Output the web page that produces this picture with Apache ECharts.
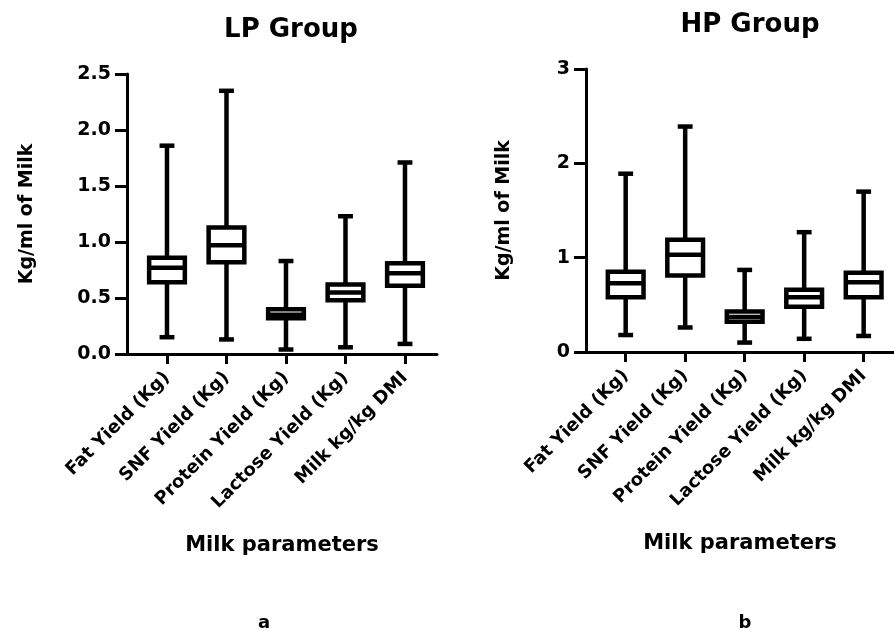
<!DOCTYPE html>
<html><head><meta charset="utf-8">
<script src="https://cdn.jsdelivr.net/npm/echarts@6/dist/echarts.min.js"></script>
<style>html,body{margin:0;padding:0;background:#fff}#c{width:894px;height:629px}</style>
</head><body><div id="c"></div>
<script>
const categories = ['Fat Yield (Kg)', 'SNF Yield (Kg)', 'Protein Yield (Kg)', 'Lactose Yield (Kg)', 'Milk kg/kg DMI'];
const categoryIndex = [0, 1, 2, 3, 4];

// LP group box statistics
const lpMin    = [0.15, 0.13, 0.04, 0.06, 0.09];
const lpQ1     = [0.64, 0.82, 0.32, 0.48, 0.61];
const lpMedian = [0.77, 0.97, 0.35, 0.55, 0.72];
const lpQ3     = [0.86, 1.13, 0.40, 0.62, 0.81];
const lpMax    = [1.86, 2.35, 0.83, 1.23, 1.71];

// HP group box statistics
const hpMin    = [0.18, 0.26, 0.10, 0.14, 0.17];
const hpQ1     = [0.58, 0.81, 0.32, 0.48, 0.58];
const hpMedian = [0.73, 1.03, 0.37, 0.58, 0.74];
const hpQ3     = [0.85, 1.19, 0.43, 0.66, 0.84];
const hpMax    = [1.89, 2.39, 0.87, 1.27, 1.70];

const lpYTicks = [0, 0.5, 1.0, 1.5, 2.0, 2.5];
const hpYTicks = [0, 1, 2, 3];

const FONT = 'DejaVu Sans';

function rows(mn, q1, md, q3, mx) {
  return categoryIndex.map(i => [i, mn[i], q1[i], md[i], q3[i], mx[i]]);
}

function renderBox(params, api) {
  const x = api.value(0);
  const p = [1, 2, 3, 4, 5].map(d => api.coord([x, api.value(d)]));
  const cx = p[0][0];
  const band = api.size([1, 0])[0];
  const hw = band * 0.3, cw = band * 0.125;
  const st = { stroke: '#000', lineWidth: 4.5, fill: 'none' };
  return {
    type: 'group', children: [
      { type: 'line', shape: { x1: cx, y1: p[0][1], x2: cx, y2: p[1][1] }, style: st },
      { type: 'line', shape: { x1: cx, y1: p[3][1], x2: cx, y2: p[4][1] }, style: st },
      { type: 'line', shape: { x1: cx - cw, y1: p[0][1], x2: cx + cw, y2: p[0][1] }, style: st },
      { type: 'line', shape: { x1: cx - cw, y1: p[4][1], x2: cx + cw, y2: p[4][1] }, style: st },
      { type: 'rect', shape: { x: cx - hw, y: p[3][1], width: 2 * hw, height: p[1][1] - p[3][1] }, style: { stroke: '#000', lineWidth: 4.5, fill: '#fff' } },
      { type: 'line', shape: { x1: cx - hw, y1: p[2][1], x2: cx + hw, y2: p[2][1] }, style: st }
    ]
  };
}

function xAxisFor(gi, min, max) {
  return {
    type: 'value', gridIndex: gi, min: min, max: max,
    name: 'Milk parameters', nameLocation: 'middle', nameGap: 181,
    nameTextStyle: { fontFamily: FONT, fontWeight: 'bold', fontSize: 21, color: '#000' },
    splitLine: { show: false },
    axisLine: { show: true, onZero: false, lineStyle: { color: '#000', width: 3 } },
    axisTick: { show: true, customValues: categoryIndex, length: 10, lineStyle: { color: '#000', width: 3 } },
    axisLabel: {
      customValues: categoryIndex, formatter: v => categories[v], rotate: 45, margin: 21,
      fontFamily: FONT, fontWeight: 'bold', fontSize: 18, color: '#000'
    }
  };
}

function yAxisFor(gi, ticks, fmt, nameGap) {
  return {
    type: 'value', gridIndex: gi, min: ticks[0], max: ticks[ticks.length - 1],
    name: 'Kg/ml of Milk', nameLocation: 'middle', nameGap: nameGap, nameRotate: 90,
    nameTextStyle: { fontFamily: FONT, fontWeight: 'bold', fontSize: 19, color: '#000' },
    splitLine: { show: false },
    axisLine: { show: true, onZero: false, lineStyle: { color: '#000', width: 3 } },
    axisTick: { show: true, customValues: ticks, length: 12, lineStyle: { color: '#000', width: 3 } },
    axisLabel: {
      customValues: ticks, formatter: fmt, margin: 16,
      fontFamily: FONT, fontWeight: 'bold', fontSize: 19, color: '#000'
    }
  };
}

const chart = echarts.init(document.getElementById('c'));
chart.setOption({
  animation: false,
  backgroundColor: '#fff',
  title: [
    { text: 'LP Group', left: 286, top: 12, textAlign: 'center', textStyle: { fontFamily: FONT, fontWeight: 'bold', fontSize: 26, color: '#000' } },
    { text: 'HP Group', left: 745, top: 7, textAlign: 'center', textStyle: { fontFamily: FONT, fontWeight: 'bold', fontSize: 26, color: '#000' } },
    { text: 'a', left: 259, top: 609, textAlign: 'center', textStyle: { fontFamily: FONT, fontWeight: 'bold', fontSize: 18, color: '#000' } },
    { text: 'b', left: 740, top: 609, textAlign: 'center', textStyle: { fontFamily: FONT, fontWeight: 'bold', fontSize: 18, color: '#000' } }
  ],
  grid: [
    { left: 127, top: 74, width: 310, height: 280 },
    { left: 586, top: 69, width: 308, height: 283 }
  ],
  xAxis: [xAxisFor(0, -0.672, 4.538), xAxisFor(1, -0.667, 4.51)],
  yAxis: [
    yAxisFor(0, lpYTicks, v => v.toFixed(1), 90),
    yAxisFor(1, hpYTicks, v => String(v), 72)
  ],
  series: [
    { type: 'custom', xAxisIndex: 0, yAxisIndex: 0, renderItem: renderBox, encode: { x: 0, y: [1, 2, 3, 4, 5] }, data: rows(lpMin, lpQ1, lpMedian, lpQ3, lpMax) },
    { type: 'custom', xAxisIndex: 1, yAxisIndex: 1, renderItem: renderBox, encode: { x: 0, y: [1, 2, 3, 4, 5] }, data: rows(hpMin, hpQ1, hpMedian, hpQ3, hpMax) }
  ]
});
</script></body></html>
